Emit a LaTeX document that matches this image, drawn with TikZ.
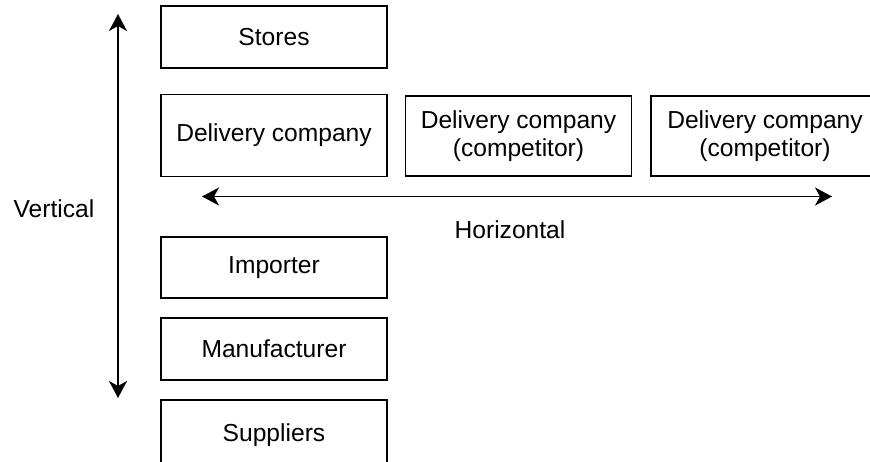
\documentclass[tikz,border=0pt]{standalone}
\usepackage{fontspec}
\setmainfont{Liberation Sans}
\usetikzlibrary{arrows.meta}

\begin{document}
\begin{tikzpicture}[x=0.5pt, y=-0.5pt, font=\fontsize{12.3}{14.3}\selectfont,
    box/.style={draw, line width=0.9pt, minimum width=113pt, align=center, inner sep=0pt},
    arr/.style={line width=0.9pt, {Stealth[length=8.5pt, width=9pt, inset=2.5pt]}-{Stealth[length=8.5pt, width=9pt, inset=2.5pt]}}]
    \useasboundingbox (0,0) rectangle (870,461);
    \node[box, minimum height=31pt] (st) at (274, 37) {Stores};
    \node[box, minimum height=41pt] (dc) at (274, 135.5) {Delivery company};
    \node[box, minimum height=40pt] (dc1) at (518.5, 136) {Delivery company\\(competitor)};
    \node[box, minimum height=40pt, minimum width=114pt] (dc2) at (765, 136) {Delivery company\\(competitor)};
    \node[box, minimum height=30.5pt] (im) at (274, 267.5) {Importer};
    \node[box, minimum height=31pt] (mf) at (274, 349) {Manufacturer};
    \node[box, minimum height=35pt] (su) at (274, 435) {Suppliers};
    \node (v) at (54, 209) {Vertical};
    \node (h) at (510, 230) {Horizontal};
    \coordinate (vt) at (118, 14);
    \coordinate (vb) at (118, 398);
    \coordinate (hl) at (202, 196.5);
    \coordinate (hr) at (832, 196.5);
    \draw [arr] (vt) to (vb);
    \draw [arr] (hl) to (hr);
\end{tikzpicture}
\end{document}
